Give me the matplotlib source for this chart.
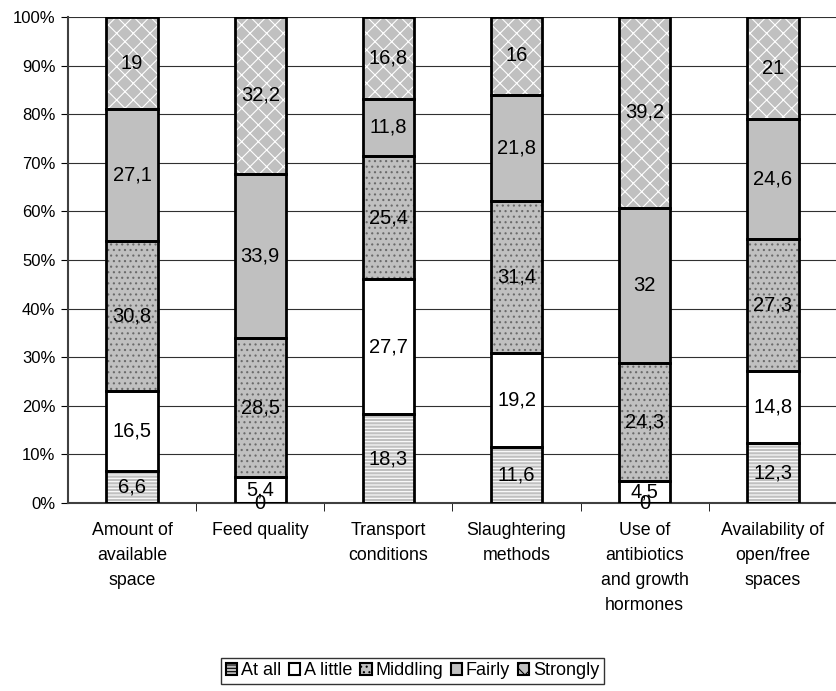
import numpy as np
import matplotlib
matplotlib.use("Agg")
from matplotlib import pyplot as plt

plt.rcParams['font.family'] = ['Liberation Sans', 'DejaVu Sans']
plt.rcParams['hatch.linewidth'] = 0.8

categories = ["Amount of\navailable\nspace", "Feed quality", "Transport\nconditions",
              "Slaughtering\nmethods", "Use of\nantibiotics\nand growth\nhormones",
              "Availability of\nopen/free\nspaces"]
series = ["At all", "A little", "Middling", "Fairly", "Strongly"]

at_all = [6.6, 0, 18.3, 11.6, 0, 12.3]
a_little = [16.5, 5.4, 27.7, 19.2, 4.5, 14.8]
middling = [30.8, 28.5, 25.4, 31.4, 24.3, 27.3]
fairly = [27.1, 33.9, 11.8, 21.8, 32, 24.6]
strongly = [19, 32.2, 16.8, 16, 39.2, 21]

# fill colour, hatch, hatch colour per series
styles = [
    ("#c0c0c0", "-----", "white"),
    ("white", None, "white"),
    ("#c0c0c0", "...", "#6a6a6a"),
    ("#c0c0c0", None, "#c0c0c0"),
    ("#c0c0c0", "xx", "white"),
]

fig = plt.figure(figsize=(8.37, 6.91), dpi=100)
ax = fig.add_axes([0.0812, 0.272, 0.9188, 0.7034])

x = np.arange(len(categories))
width = 0.4
bottom = np.zeros(len(categories))
handles = []
for vals, name, (fc, hatch, hc) in zip([at_all, a_little, middling, fairly, strongly], series, styles):
    vals = np.array(vals, dtype=float)
    # patterned fill first, then a black outline on top
    ax.bar(x, vals, width, bottom=bottom, color=fc, edgecolor=hc, hatch=hatch, linewidth=0, zorder=2)
    ax.bar(x, vals, width, bottom=bottom, fill=False, edgecolor="black", linewidth=2, zorder=3)
    for xi, b, v in zip(x, bottom, vals):
        ax.text(xi, b + v / 2, f"{v:g}".replace(".", ","), ha="center", va="center",
                fontsize=14.5, zorder=4)
    handles.append(plt.Rectangle((0, 0), 1, 1, facecolor=fc, edgecolor="black",
                                 hatch=hatch, linewidth=1.5))
    bottom += vals

ax.set_xlim(-0.5, len(categories) - 0.5)
ax.set_ylim(0, 100)
ax.set_yticks(np.arange(0, 101, 10))
ax.set_yticklabels([f"{t}%" for t in range(0, 101, 10)], fontsize=12)
ax.yaxis.grid(True, color="#303030", linewidth=0.8, zorder=0)
ax.set_axisbelow(True)

ax.set_xticks(x)
ax.set_xticklabels(categories, fontsize=12.8, va="top", linespacing=1.6)
ax.tick_params(axis="x", length=0, pad=14)
ax.set_xticks(x[:-1] + 0.5, minor=True)
ax.tick_params(axis="x", which="minor", length=6, direction="out", color="black")
ax.tick_params(axis="y", length=5, direction="out", color="black", pad=4)

for s in ["top", "right"]:
    ax.spines[s].set_visible(False)
ax.spines["left"].set_color("#404040")
ax.spines["bottom"].set_color("#404040")
ax.spines["left"].set_linewidth(1.5)
ax.spines["bottom"].set_linewidth(1.5)

leg = fig.legend(handles, series, loc="center", bbox_to_anchor=(0.493, 0.0295), ncol=5,
                 fontsize=13, frameon=True, fancybox=False, edgecolor="black",
                 handlelength=0.62, handleheight=0.62, handletextpad=0.2, columnspacing=0.45,
                 borderpad=0.25)
leg.get_frame().set_linewidth(1)

plt.savefig("out.png", dpi=100)
